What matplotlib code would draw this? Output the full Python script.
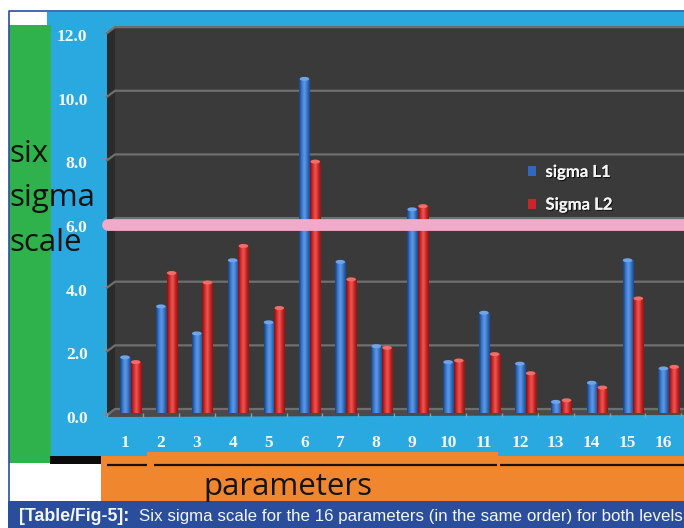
import numpy as np
import matplotlib
matplotlib.use("Agg")
import matplotlib.pyplot as plt
from matplotlib.patches import Rectangle, Polygon, Patch, Ellipse
from matplotlib.colors import LinearSegmentedColormap
import matplotlib.transforms as mtransforms
import matplotlib.patheffects as pe

# ---- data -------------------------------------------------------------
params = list(range(1, 17))
sigma_l1 = [1.75, 3.35, 2.5, 4.8, 2.85, 10.5, 4.75, 2.1, 6.4, 1.6, 3.15, 1.55, 0.35, 0.95, 4.8, 1.4]
sigma_l2 = [1.6, 4.4, 4.1, 5.25, 3.3, 7.9, 4.2, 2.05, 6.5, 1.65, 1.85, 1.25, 0.4, 0.8, 3.6, 1.45]
series_names = ["sigma L1", "Sigma L2"]
y_ticks = [0, 2, 4, 6, 8, 10, 12]
y_tick_labels = ["0.0", "2.0", "4.0", "6.0", "8.0", "10.0", "12.0"]
target_sigma = 6.0
caption_tag = "[Table/Fig-5]:"
caption_text = "Six sigma scale for the 16 parameters (in the same order) for both levels"

# ---- canvas -----------------------------------------------------------
W, H = 684, 528
fig = plt.figure(figsize=(W / 100, H / 100), dpi=100)
fig.patch.set_facecolor("white")

CYAN = "#2aa9e0"
GREEN = "#2fb24c"
ORANGE = "#f0872e"
NAVY = "#2a4e9b"


def px_rect(x0, y0, x1, y1, color, z=-5, **kw):
    """Rectangle given in pixels measured from the top-left corner."""
    r = Rectangle((x0 / W, 1 - y1 / H), (x1 - x0) / W, (y1 - y0) / H,
                  transform=fig.transFigure, facecolor=color, edgecolor="none",
                  zorder=z, **kw)
    fig.add_artist(r)
    return r


def px_line(x0, x1, y, color, lw, z=-4):
    fig.add_artist(plt.Line2D([x0 / W, x1 / W], [1 - y / H, 1 - y / H],
                              transform=fig.transFigure, color=color, lw=lw,
                              zorder=z, solid_capstyle="butt"))


# coloured panels around the chart
px_rect(9, 12, 684, 456, CYAN)
px_rect(9, 12, 47, 25, "white")
px_rect(9, 25, 51, 463, GREEN)
px_rect(50, 456, 101, 464, "#0b0b0b")
px_rect(101, 456, 684, 501, ORANGE)
px_rect(147, 452, 498, 456, ORANGE)
px_line(107, 147, 464.5, "#1a1208", 1.6)
px_line(154, 497, 464.5, "#1a1208", 1.6)
px_line(500, 684, 464.5, "#1a1208", 1.6)
px_rect(8, 501, 684, 528, NAVY)
fig.add_artist(plt.Line2D([8.5 / W, 8.5 / W, 1], [1 - 501 / H, 1 - 11 / H, 1 - 11 / H],
                          transform=fig.transFigure, color=NAVY, lw=1.2, zorder=-3))

# ---- chart axes -------------------------------------------------------
AX_L, AX_R, AX_T, AX_B = 107, 684, 27, 413
ax = fig.add_axes([AX_L / W, 1 - AX_B / H, (AX_R - AX_L) / W, (AX_B - AX_T) / H])
ax.set_facecolor("none")
for s in ax.spines.values():
    s.set_visible(False)

x = np.array(params, dtype=float)
bar_w = 0.28
offset = 0.30
XLIM = (0.5, 0.5 + (AX_R - AX_L) / 35.9)
YLIM = (0, 12.13)
ax.set_xlim(*XLIM)
ax.set_ylim(*YLIM)

ident = mtransforms.IdentityTransform()


def ypix(v):
    return ax.transData.transform((0, v))[1]


fig.canvas.draw()
y0d = ypix(0)
ytopd = ypix(12)
xl, xr = AX_L, AX_R
xw = 115
front_dy, back_dy = -2, 4   # wall depth in pixels (down at front, up at back)

# back wall, left wall and floor
ax.add_patch(Polygon([(xw, ytopd + back_dy), (xr, ytopd + back_dy), (xr, y0d + back_dy),
                      (xw, y0d + back_dy)], closed=True, transform=ident,
                     facecolor="#3a3a3a", edgecolor="none", zorder=0, clip_on=False))
ax.add_patch(Polygon([(xl, ytopd + front_dy), (xw, ytopd + back_dy), (xw, y0d + back_dy),
                      (xl, y0d + front_dy)], closed=True, transform=ident,
                     facecolor="#2b2b2b", edgecolor="none", zorder=0.1, clip_on=False))
ax.add_patch(Polygon([(xl, y0d + front_dy - 2), (xw, y0d + back_dy), (xr, y0d + back_dy),
                      (xr, y0d - 2)], closed=True, transform=ident,
                     facecolor="#4a4a4a", edgecolor="none", zorder=0.2, clip_on=False))

# gridlines on the back wall, with a short diagonal across the side wall
for v in y_ticks:
    yd = ypix(v)
    ax.add_line(plt.Line2D([xl, xw, xr], [yd + front_dy, yd + back_dy, yd + back_dy],
                           transform=ident, color="#6f6f6f", lw=1.6, zorder=0.5,
                           clip_on=False))

# cylinder-like shading for the bars
blue_cmap = LinearSegmentedColormap.from_list(
    "cyl_blue", ["#173f7d", "#3a78cc", "#5f9be6", "#3a74c6", "#1b4688"])
red_cmap = LinearSegmentedColormap.from_list(
    "cyl_red", ["#84110f", "#cf2a2a", "#f05b58", "#cc2626", "#8c1513"])
cap_blue, cap_red = "#6ea5ea", "#f06d68"
grad = np.linspace(0, 1, 64).reshape(1, -1)


def cylinder_bars(xs, hs, cmap, cap):
    bars = ax.bar(xs, hs, bar_w, color="none", edgecolor="none", zorder=3)
    cap_h = 4.0 / (ypix(1) - ypix(0))
    for b in bars:
        bx, by = b.get_x(), b.get_y()
        bw, bh = b.get_width(), b.get_height()
        im = ax.imshow(grad, cmap=cmap, extent=(bx, bx + bw, by, by + bh),
                       aspect="auto", interpolation="bicubic", zorder=3)
        im.set_clip_path(b)
        ax.add_patch(Ellipse((bx + bw / 2, by + bh), bw * 0.95, cap_h,
                             facecolor=cap, edgecolor="none", zorder=3.1))
    return bars


cylinder_bars(x, sigma_l1, blue_cmap, cap_blue)
cylinder_bars(x + offset, sigma_l2, red_cmap, cap_red)
ax.set_xlim(*XLIM)
ax.set_ylim(*YLIM)
ax.set_aspect("auto")

# six sigma reference line, drawn on the front plane of the chart
front_shift = mtransforms.ScaledTranslation(0, -3 / 100, fig.dpi_scale_trans)
ax.plot([0.52, XLIM[1] + 1], [target_sigma, target_sigma], color="#f2aacb",
        lw=8.5, solid_capstyle="round", zorder=5, clip_on=False,
        transform=ax.transData + front_shift)

# ---- ticks ------------------------------------------------------------
ax.set_yticks(y_ticks)
ax.set_yticklabels(y_tick_labels)
ax.tick_params(axis="y", length=3, width=1, color="#8a8a8a", pad=11,
               labelcolor="#f4f8fb")
for lab in ax.get_yticklabels():
    lab.set_fontfamily("Liberation Serif")
    lab.set_fontweight("bold")
    lab.set_fontsize(12.5)
    lab.set_transform(lab.get_transform() +
                      mtransforms.ScaledTranslation(0, -4 / 100, fig.dpi_scale_trans))

ax.set_xticks(x)
ax.set_xticklabels([str(p) for p in params])
ax.set_xticks(np.arange(0.5, 17, 1.0), minor=True)
ax.tick_params(axis="x", which="major", length=0, pad=16, labelcolor="#f4f8fb")
ax.tick_params(axis="x", which="minor", length=3, width=1, color="#8aa0ad", pad=2)
for lab in ax.get_xticklabels():
    lab.set_fontfamily("Liberation Serif")
    lab.set_fontweight("bold")
    lab.set_fontsize(12.5)

# ---- legend -----------------------------------------------------------
handles = [Patch(facecolor="#2f68bd", edgecolor="none"),
           Patch(facecolor="#c9262b", edgecolor="none")]
leg = ax.legend(handles, series_names, loc="upper left",
                bbox_to_anchor=(528 / W, 1 - 164 / H), bbox_transform=fig.transFigure,
                frameon=False, borderpad=0, borderaxespad=0, handlelength=0.5,
                handleheight=0.5, handletextpad=0.55, labelspacing=1.0,
                prop=dict(family="Lato", weight="bold", size=12))
leg.set_zorder(6)
for t in leg.get_texts():
    t.set_color("#f4f4f4")
    t.set_path_effects([pe.withSimplePatchShadow(offset=(0.8, -0.8), shadow_rgbFace="black",
                                                 alpha=0.7), pe.Normal()])

# ---- surrounding labels -----------------------------------------------
for word, base in zip(["six", "sigma", "scale"], [162, 206, 251]):
    fig.text(9 / W, 1 - base / H, word, family="Open Sans", fontsize=22.5,
             color="#111111", va="baseline", ha="left", zorder=4)
fig.text(203 / W, 1 - 495 / H, "parameters", family="Open Sans", fontsize=22.5,
         color="#141414", va="baseline", ha="left", zorder=4)

fig.text(19 / W, 1 - 521 / H, caption_tag, family="Liberation Sans", fontweight="bold",
         fontsize=12.8, color="#f3f6fb", va="baseline", ha="left", zorder=4)
fig.text(139 / W, 1 - 521 / H, caption_text, family="Liberation Sans", fontsize=12.2,
         color="#f3f6fb", va="baseline", ha="left", zorder=4)

fig.savefig("out.png", dpi=100)
